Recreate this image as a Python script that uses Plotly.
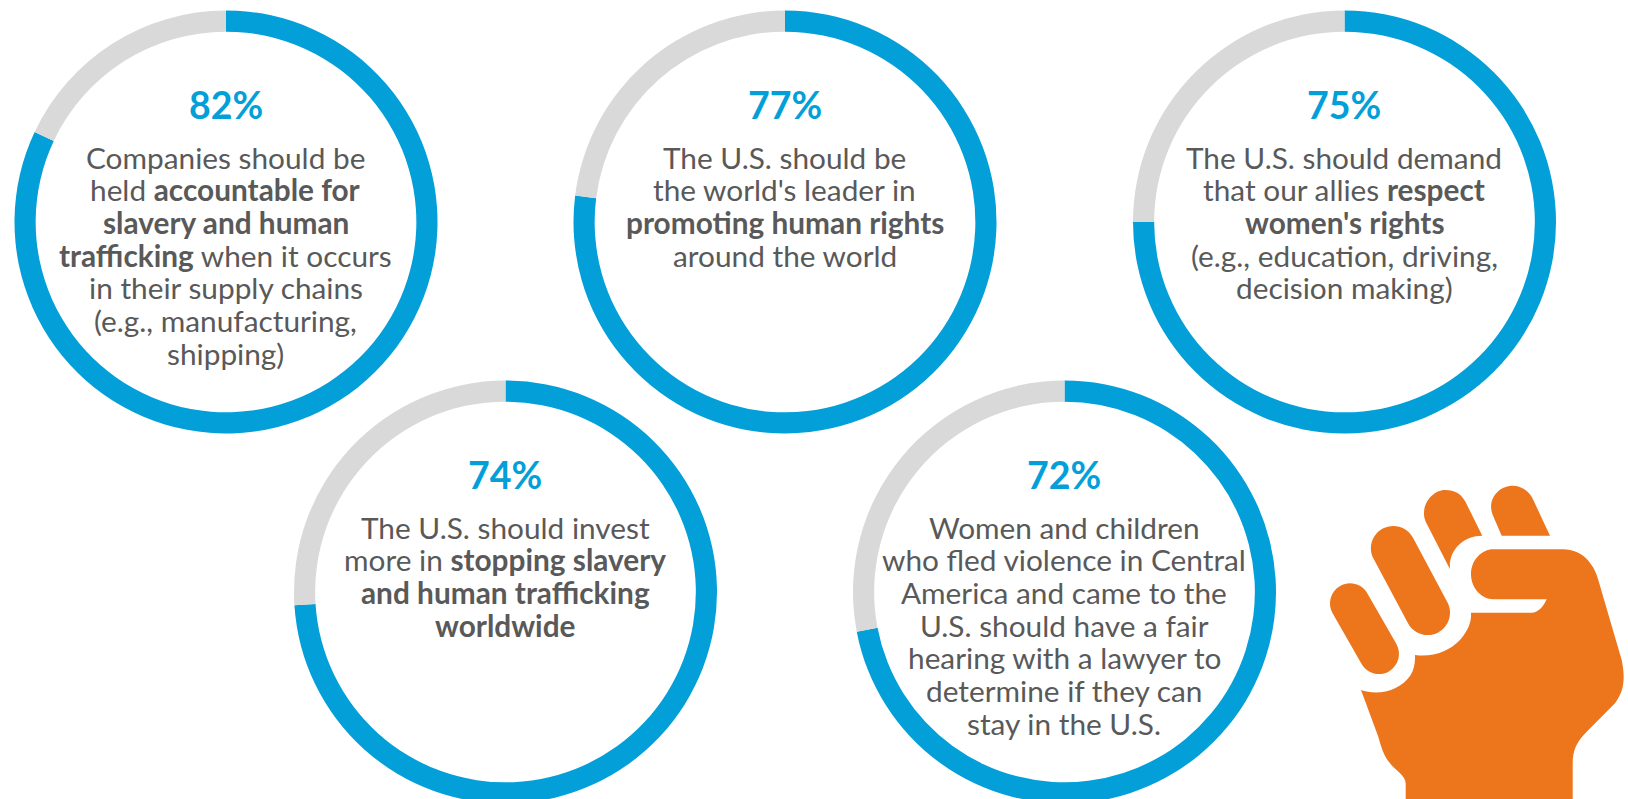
import math
import plotly.graph_objects as go

W, H = 1628, 814

percent_values = [82, 77, 75, 74, 72]
percent_labels = ["82%", "77%", "75%", "74%", "72%"]
statement_lines = [
    ["Companies should be", "held <b>accountable for</b>", "<b>slavery and human</b>",
     "<b>trafficking</b> when it occurs", "in their supply chains", "(e.g., manufacturing,", "shipping)"],
    ["The U.S. should be", "the world's leader in", "<b>promoting human rights</b>", "around the world"],
    ["The U.S. should demand", "that our allies <b>respect</b>", "<b>women's rights</b>",
     "(e.g., education, driving,", "decision making)"],
    ["The U.S. should invest", "more in <b>stopping slavery</b>", "<b>and human trafficking</b>", "<b>worldwide</b>"],
    ["Women and children", "who fled violence in Central", "America and came to the",
     "U.S. should have a fair", "hearing with a lawyer to", "determine if they can", "stay in the U.S."],
]
centers_x = [226, 785, 1344.5, 505.5, 1064.5]
centers_y = [222, 222, 222, 592, 592]
R = 211.5
BLUE, GREY, TEXT, ORANGE = "#029FD9", "#D9D9D9", "#595959", "#ED751B"
FONT = "Lato, Carlito, Calibri, sans-serif"

fig = go.Figure()
annotations = []
for i, v in enumerate(percent_values):
    cx, cy = centers_x[i], centers_y[i]
    fig.add_trace(go.Pie(
        values=[v, 100 - v], labels=["Agree", "Other"], sort=False, direction="clockwise",
        rotation=0, hole=0.9, textinfo="none", showlegend=False,
        marker=dict(colors=[BLUE, GREY], line=dict(width=0)),
        domain=dict(x=[(cx - R) / W, (cx + R) / W], y=[(H - cy - R) / H, (H - cy + R) / H]),
    ))
    annotations.append(dict(x=cx - 0.5, y=cy - 118, text=f"<b>{percent_labels[i]}</b>", showarrow=False,
                            xref="x", yref="y", xanchor="center", yanchor="middle",
                            font=dict(family=FONT, size=37.5, color=BLUE)))
    for j, line in enumerate(statement_lines[i]):
        annotations.append(dict(x=cx - 0.5, y=cy - 65 + j * 32.7, text=line, showarrow=False,
                                xref="x", yref="y", xanchor="center", yanchor="middle",
                                font=dict(family=FONT, size=29.8, color=TEXT)))


def pt(x, y):
    return f"{1300 + x / 3:.1f},{470 + y / 3:.1f}"


def path(cmds):
    out = []
    for c in cmds:
        op, nums = c[0], c[1:]
        out.append(op + " " + " ".join(pt(nums[k], nums[k + 1]) for k in range(0, len(nums), 2)))
    return " ".join(out) + " Z"


def capsule(ax, ay, bx, by, r):
    L = math.hypot(bx - ax, by - ay)
    ux, uy = (bx - ax) / L, (by - ay) / L
    nx, ny = -uy, ux
    k = 0.5523 * r
    a1 = (ax + nx * r, ay + ny * r)
    a2 = (ax - nx * r, ay - ny * r)
    b1 = (bx + nx * r, by + ny * r)
    b2 = (bx - nx * r, by - ny * r)
    at = (ax - ux * r, ay - uy * r)
    bt = (bx + ux * r, by + uy * r)
    return path([
        ("M", *a1),
        ("C", a1[0] - ux * k, a1[1] - uy * k, at[0] + nx * k, at[1] + ny * k, *at),
        ("C", at[0] - nx * k, at[1] - ny * k, a2[0] - ux * k, a2[1] - uy * k, *a2),
        ("L", *b2),
        ("C", b2[0] + ux * k, b2[1] + uy * k, bt[0] - nx * k, bt[1] - ny * k, *bt),
        ("C", bt[0] + nx * k, bt[1] + ny * k, b1[0] + ux * k, b1[1] + uy * k, *b1),
    ])


fist_paths = [
    capsule(150, 400, 237, 552, 60),
    capsule(280, 235, 383, 428, 67),
    path([("M", 450, 298), ("L", 377, 155), ("C", 358, 110, 395, 60, 435, 60), ("C", 465, 60, 485, 72, 497, 97),
          ("L", 547, 197), ("C", 490, 197, 445, 240, 450, 298)]),
    path([("M", 605, 197), ("L", 578, 135), ("C", 560, 90, 595, 47, 638, 47), ("C", 665, 47, 690, 65, 700, 90),
          ("L", 750, 197)]),
    path([("M", 580, 238), ("L", 790, 238), ("C", 845, 238, 882, 280, 895, 330), ("L", 965, 570),
          ("C", 975, 620, 975, 660, 945, 700), ("L", 860, 785), ("C", 830, 815, 818, 840, 818, 880),
          ("L", 818, 1040), ("L", 317, 1040), ("L", 317, 940), ("C", 315, 915, 290, 905, 270, 880),
          ("C", 250, 855, 245, 835, 235, 800), ("L", 183, 660), ("C", 210, 670, 250, 672, 285, 655),
          ("C", 330, 632, 347, 600, 345, 555), ("C", 400, 562, 445, 545, 480, 510),
          ("C", 505, 480, 515, 455, 513, 428), ("L", 695, 428), ("C", 715, 428, 730, 410, 740, 388),
          ("L", 580, 388), ("C", 545, 388, 513, 355, 513, 313), ("C", 513, 270, 545, 238, 580, 238)]),
]
shapes = [dict(type="path", path=p, xref="x", yref="y", fillcolor=ORANGE, line=dict(width=0)) for p in fist_paths]

fig.update_layout(
    width=W, height=H, margin=dict(l=0, r=0, t=0, b=0),
    paper_bgcolor="white", plot_bgcolor="white", showlegend=False,
    xaxis=dict(range=[0, W], visible=False, fixedrange=True),
    yaxis=dict(range=[H, 0], visible=False, fixedrange=True),
    annotations=annotations, shapes=shapes,
)
fig.write_html("out.html", config=dict(displayModeBar=False), post_script=(
    "document.documentElement.style.overflow='hidden';"
    "document.body.style.margin='0';document.body.style.overflow='hidden';"))
